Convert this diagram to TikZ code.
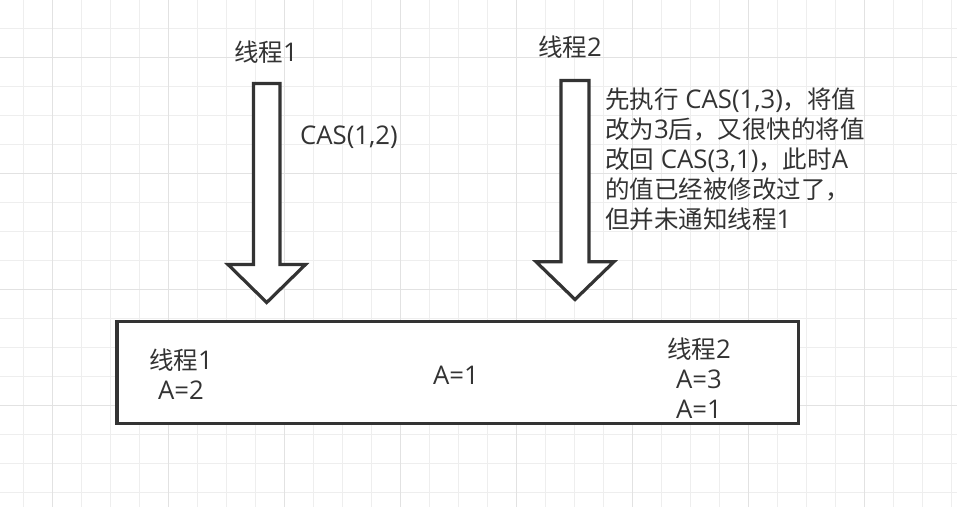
\documentclass[tikz,border=0pt]{standalone}
\usepackage{fontspec}
\setmainfont[Scale=1.05]{Open Sans}
\newfontfamily\cjk{Noto Sans CJK SC}
\definecolor{ink}{HTML}{333333}
\definecolor{gridminor}{HTML}{EEEEEE}
\definecolor{gridmajor}{HTML}{E2E2E2}
\begin{document}
\begin{tikzpicture}[x=1pt,y=-1pt,
  lbl/.style={inner sep=0pt, text=ink, font=\fontsize{24.5}{30}\selectfont},
  bigarrow/.style={draw=ink, line width=3.2pt, line join=miter, fill=white},
  boxst/.style={draw=ink, line width=3.2pt, fill=white, inner sep=0pt}]
\useasboundingbox (0,0) rectangle (957,507);
\fill[white] (0,0) rectangle (957,507);
% grid
\foreach \i in {0,...,32} {\draw[gridminor, line width=1pt] (23.3+29*\i,0) -- (23.3+29*\i,507);}
\foreach \j in {0,...,16} {\draw[gridminor, line width=1pt] (0,28.3+29*\j) -- (957,28.3+29*\j);}
\foreach \i in {0,...,7} {\draw[gridmajor, line width=1pt] (52.3+116*\i,0) -- (52.3+116*\i,507);}
\foreach \j in {0,...,3} {\draw[gridmajor, line width=1pt] (0,57.3+116*\j) -- (957,57.3+116*\j);}
% arrows
\draw[bigarrow] (253.5,83.5) -- (280,83.5) -- (280,264.5) -- (305.5,264.5) -- (266.7,302.5) -- (228,264.5) -- (253.5,264.5) -- cycle;
\draw[bigarrow] (561,80.5) -- (589,80.5) -- (589,261.7) -- (614,261.7) -- (575,299.5) -- (536,261.7) -- (561,261.7) -- cycle;
% box
\node[boxst, minimum width=681.6pt, minimum height=101.6pt] (box) at (457.8,372.5) {};
% labels
\node[lbl] (t1) at (266,52) {{\cjk 线程}1};
\node[lbl] (t2) at (570,47) {{\cjk 线程}2};
\node[lbl, anchor=west] (c1) at (300,137) {CAS(1,2)};
\node[lbl, anchor=west, align=left] (c2) at (605,159.5) {{\cjk 先执行} CAS(1,3){\cjk ，将值}\\{\cjk 改为}3{\cjk 后，又很快的将值}\\{\cjk 改回} CAS(3,1){\cjk ，此时}A\\{\cjk 的值已经被修改过了，}\\{\cjk 但并未通知线程}1};
\node[lbl, align=center] (b1) at (181,374.5) {{\cjk 线程}1\\A=2};
\node[lbl] (b2) at (456,375) {A=1};
\node[lbl, align=center] (b3) at (699,378) {{\cjk 线程}2\\A=3\\A=1};
\end{tikzpicture}
\end{document}
